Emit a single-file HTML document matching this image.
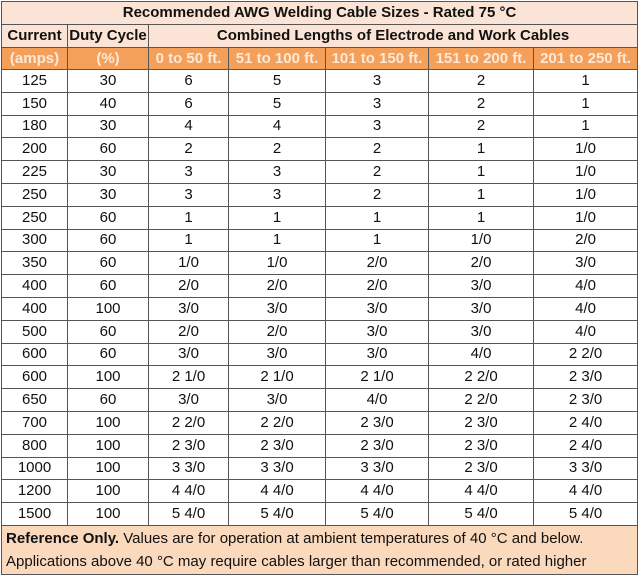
<!DOCTYPE html>
<html><head><meta charset="utf-8"><style>
body{margin:0;background:#fff;width:640px;height:576px;overflow:hidden;font-family:"Liberation Sans",sans-serif;}
table{position:absolute;left:1px;top:1px;border-collapse:collapse;table-layout:fixed;width:636px;}
td{border:1px solid #555;text-align:center;padding:0;font-size:15px;color:#111;height:21.8px;line-height:20px;white-space:nowrap;overflow:hidden;}
.t td{background:#fbe4d5;font-weight:bold;height:22px;}
.o td{background:#f4a05a;color:#fde9d9;font-weight:bold;height:21px;}
.f td{background:#fbd9bd;text-align:left;padding-left:4px;font-size:15px;line-height:23px;height:48px;}
</style></head><body>
<table>
<colgroup><col style="width:66px"><col style="width:81px"><col style="width:80px"><col style="width:97px"><col style="width:103px"><col style="width:105px"><col style="width:104px"></colgroup>
<tr class="t"><td colspan="7">Recommended AWG Welding Cable Sizes - Rated 75 °C</td></tr>
<tr class="t"><td>Current</td><td>Duty Cycle</td><td colspan="5">Combined Lengths of Electrode and Work Cables</td></tr>
<tr class="o"><td>(amps)</td><td>(%)</td><td>0 to 50 ft.</td><td>51 to 100 ft.</td><td>101 to 150 ft.</td><td>151 to 200 ft.</td><td>201 to 250 ft.</td></tr>
<tr><td>125</td><td>30</td><td>6</td><td>5</td><td>3</td><td>2</td><td>1</td></tr>
<tr><td>150</td><td>40</td><td>6</td><td>5</td><td>3</td><td>2</td><td>1</td></tr>
<tr><td>180</td><td>30</td><td>4</td><td>4</td><td>3</td><td>2</td><td>1</td></tr>
<tr><td>200</td><td>60</td><td>2</td><td>2</td><td>2</td><td>1</td><td>1/0</td></tr>
<tr><td>225</td><td>30</td><td>3</td><td>3</td><td>2</td><td>1</td><td>1/0</td></tr>
<tr><td>250</td><td>30</td><td>3</td><td>3</td><td>2</td><td>1</td><td>1/0</td></tr>
<tr><td>250</td><td>60</td><td>1</td><td>1</td><td>1</td><td>1</td><td>1/0</td></tr>
<tr><td>300</td><td>60</td><td>1</td><td>1</td><td>1</td><td>1/0</td><td>2/0</td></tr>
<tr><td>350</td><td>60</td><td>1/0</td><td>1/0</td><td>2/0</td><td>2/0</td><td>3/0</td></tr>
<tr><td>400</td><td>60</td><td>2/0</td><td>2/0</td><td>2/0</td><td>3/0</td><td>4/0</td></tr>
<tr><td>400</td><td>100</td><td>3/0</td><td>3/0</td><td>3/0</td><td>3/0</td><td>4/0</td></tr>
<tr><td>500</td><td>60</td><td>2/0</td><td>2/0</td><td>3/0</td><td>3/0</td><td>4/0</td></tr>
<tr><td>600</td><td>60</td><td>3/0</td><td>3/0</td><td>3/0</td><td>4/0</td><td>2 2/0</td></tr>
<tr><td>600</td><td>100</td><td>2 1/0</td><td>2 1/0</td><td>2 1/0</td><td>2 2/0</td><td>2 3/0</td></tr>
<tr><td>650</td><td>60</td><td>3/0</td><td>3/0</td><td>4/0</td><td>2 2/0</td><td>2 3/0</td></tr>
<tr><td>700</td><td>100</td><td>2 2/0</td><td>2 2/0</td><td>2 3/0</td><td>2 3/0</td><td>2 4/0</td></tr>
<tr><td>800</td><td>100</td><td>2 3/0</td><td>2 3/0</td><td>2 3/0</td><td>2 3/0</td><td>2 4/0</td></tr>
<tr><td>1000</td><td>100</td><td>3 3/0</td><td>3 3/0</td><td>3 3/0</td><td>2 3/0</td><td>3 3/0</td></tr>
<tr><td>1200</td><td>100</td><td>4 4/0</td><td>4 4/0</td><td>4 4/0</td><td>4 4/0</td><td>4 4/0</td></tr>
<tr><td>1500</td><td>100</td><td>5 4/0</td><td>5 4/0</td><td>5 4/0</td><td>5 4/0</td><td>5 4/0</td></tr>
<tr class="f"><td colspan="7"><b>Reference Only.</b> Values are for operation at ambient temperatures of 40 °C and below.<br>Applications above 40 °C may require cables larger than recommended, or rated higher</td></tr>
</table>
</body></html>
